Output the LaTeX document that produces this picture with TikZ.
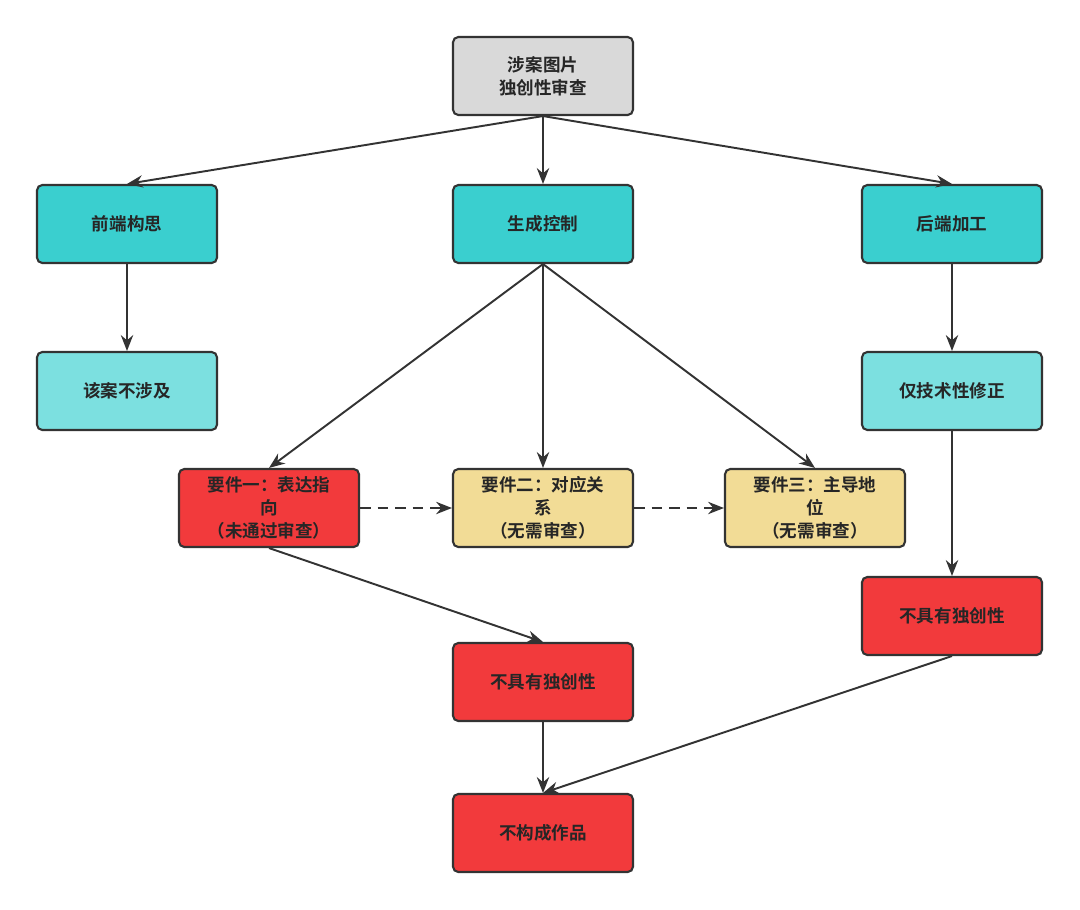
\documentclass[tikz,border=0pt]{standalone}
\usepackage{fontspec}
\newfontfamily\cjk{Noto Sans CJK SC}[BoldFont={Noto Sans CJK SC Bold}]
\usetikzlibrary{arrows.meta}
\definecolor{topgray}{HTML}{D9D9D9}
\definecolor{stagecol}{HTML}{3ACFCF}
\definecolor{leafcol}{HTML}{7CE0E0}
\definecolor{failcol}{HTML}{F23A3C}
\definecolor{reqcol}{HTML}{F2DC96}
\definecolor{edgecol}{HTML}{333333}
\tikzset{
  box/.style={draw=edgecol, line width=1.2pt, rounded corners=3pt, minimum width=3.6cm,
    minimum height=1.56cm, align=center, font=\cjk\bfseries\fontsize{10}{13}\selectfont, text=black!85},
  arr/.style={-{Stealth[length=9pt,width=7pt]}, draw=edgecol, line width=1.1pt},
  darr/.style={arr, dashed, dash pattern=on 6pt off 4pt}
}
\begin{document}
\begin{tikzpicture}[x=0.02cm,y=-0.02cm]
  \useasboundingbox[fill=white] (0,0) rectangle (1080,910);
  % top level
  \node[box, fill=topgray] (root) at (543,76) {涉案图片\\独创性审查};
  % three stages
  \node[box, fill=stagecol] (front) at (127,224) {前端构思};
  \node[box, fill=stagecol] (gen) at (543,224) {生成控制};
  \node[box, fill=stagecol] (back) at (952,224) {后端加工};
  \node[box, fill=leafcol] (nocase) at (127,391) {该案不涉及};
  \node[box, fill=leafcol] (tech) at (952,391) {仅技术性修正};
  % three requirements
  \node[box, fill=failcol] (req1) at (269,508) {要件一：表达指\\向\\（未通过审查）};
  \node[box, fill=reqcol] (req2) at (543,508) {要件二：对应关\\系\\（无需审查）};
  \node[box, fill=reqcol] (req3) at (815,508) {要件三：主导地\\位\\（无需审查）};
  % results
  \node[box, fill=failcol] (origR) at (952,616) {不具有独创性};
  \node[box, fill=failcol] (origM) at (543,682) {不具有独创性};
  \node[box, fill=failcol] (nowork) at (543,833) {不构成作品};
  % connectors
  \draw[arr] (root.south) -- (front.north);
  \draw[arr] (root.south) -- (gen.north);
  \draw[arr] (root.south) -- (back.north);
  \draw[arr] (front.south) -- (nocase.north);
  \draw[arr] (back.south) -- (tech.north);
  \draw[arr] (gen.south) -- (req1.north);
  \draw[arr] (gen.south) -- (req2.north);
  \draw[arr] (gen.south) -- (req3.north);
  \draw[darr] (req1.east) -- (req2.west);
  \draw[darr] (req2.east) -- (req3.west);
  \draw[arr] (tech.south) -- (origR.north);
  \draw[arr] (req1.south) -- (origM.north);
  \draw[arr] (origM.south) -- (nowork.north);
  \draw[arr] (origR.south) -- (nowork.north);
\end{tikzpicture}
\end{document}
